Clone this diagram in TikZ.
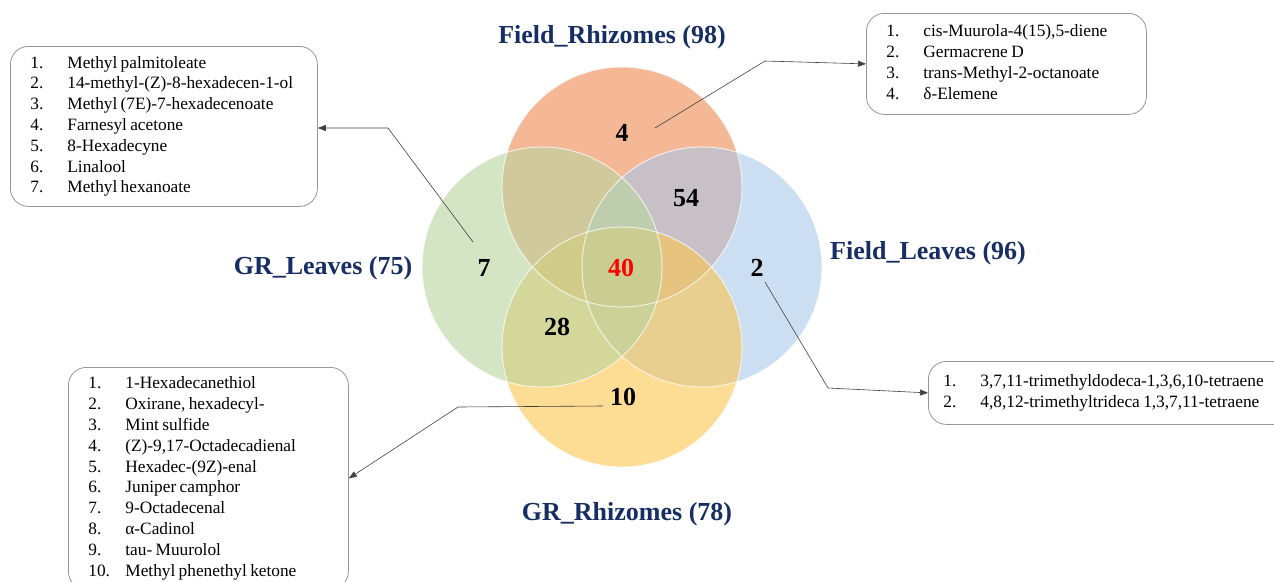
\documentclass[tikz,border=0pt]{standalone}
\usepackage{fontspec}
\setmainfont{Liberation Serif}
\usetikzlibrary{arrows.meta}

\definecolor{setnavy}{RGB}{22,46,100}
\definecolor{frhiz}{RGB}{238,138,82}
\definecolor{gleaf}{RGB}{183,213,158}
\definecolor{fleaf}{RGB}{170,200,232}
\definecolor{grhiz}{RGB}{252,197,78}
\definecolor{boxline}{RGB}{150,150,150}

% numbered compound list for the callout boxes
\newcommand{\cmpdlist}[1]{\fontsize{17.3}{20.8}\selectfont\begin{tabular}{@{}p{37pt}@{}l@{}}#1\end{tabular}}

\tikzset{
  setcirc/.style={fill opacity=0.6},
  setrim/.style={draw=white, draw opacity=0.7, line width=1pt},
  setname/.style={text=setnavy, font=\fontsize{26}{28}\selectfont\bfseries},
  count/.style={font=\fontsize{26}{28}\selectfont\bfseries},
  listbox/.style={draw=boxline, line width=0.8pt, rounded corners=18pt,
    inner xsep=20pt, inner ysep=0pt, anchor=north west, align=left},
  leader/.style={draw=black!75, line width=0.6pt, -{Triangle[length=8pt,width=6pt]}}
}

\begin{document}
\begin{tikzpicture}[x=1pt,y=-1pt]
  \useasboundingbox (0,0) rectangle (1274,581);
  \clip (0,0) rectangle (1274,581);

  % the four sets
  \fill[white] (0,0) rectangle (1274,581);
  \fill[setcirc,frhiz] (622,187) circle (120);
  \fill[setcirc,fleaf] (702,267) circle (120);
  \fill[setcirc,grhiz] (622,347) circle (120);
  \fill[setcirc,gleaf] (542,267) circle (120);
  \foreach \cx/\cy in {622/187, 702/267, 622/347, 542/267}
    \draw[setrim] (\cx,\cy) circle (120);

  \node[setname] (fr) at (612,37) {Field\_Rhizomes (98)};
  \node[setname] (gl) at (323,268) {GR\_Leaves (75)};
  \node[setname] (fl) at (928,253) {Field\_Leaves (96)};
  \node[setname] (gr) at (627,514) {GR\_Rhizomes (78)};

  % counts per region
  \node[count] (n4) at (622,133) {4};
  \node[count] (n54) at (686,198) {54};
  \node[count] (n7) at (484,268) {7};
  \node[count,text=red] (n40) at (621,268) {40};
  \node[count] (n2) at (757,268) {2};
  \node[count] (n28) at (557,327) {28};
  \node[count] (n10) at (623,397) {10};

  % unique compounds
  \node[listbox,text width=267pt,minimum height=160pt] (lst7) at (10,46) {\cmpdlist{
    1. & Methyl palmitoleate\\
    2. & 14-methyl-(Z)-8-hexadecen-1-ol\\
    3. & Methyl (7E)-7-hexadecenoate\\
    4. & Farnesyl acetone\\
    5. & 8-Hexadecyne\\
    6. & Linalool\\
    7. & Methyl hexanoate}};
  \node[listbox,text width=240pt,minimum height=101pt] (lst4) at (866,13) {\cmpdlist{
    1. & cis-Muurola-4(15),5-diene\\
    2. & Germacrene D\\
    3. & trans-Methyl-2-octanoate\\
    4. & δ-Elemene}};
  \node[listbox,inner xsep=15pt,text width=350pt,minimum height=63pt] (lst2) at (928,361) {\cmpdlist{
    1. & 3,7,11-trimethyldodeca-1,3,6,10-tetraene\\
    2. & 4,8,12-trimethyltrideca 1,3,7,11-tetraene}};
  \node[listbox,text width=240pt,minimum height=222pt] (lst10) at (68,367) {\cmpdlist{
    1. & 1-Hexadecanethiol\\
    2. & Oxirane, hexadecyl-\\
    3. & Mint sulfide\\
    4. & (Z)-9,17-Octadecadienal\\
    5. & Hexadec-(9Z)-enal\\
    6. & Juniper camphor\\
    7. & 9-Octadecenal\\
    8. & α-Cadinol\\
    9. & tau- Muurolol\\
    10. & Methyl phenethyl ketone}};

  % leader lines
  \coordinate (s7) at (473,242);
  \coordinate (k7) at (388,128);
  \coordinate (s4) at (655,128);
  \coordinate (k4) at (765,61);
  \coordinate (s2) at (765,282);
  \coordinate (k2) at (828,388);
  \coordinate (s10) at (603,406);
  \coordinate (k10) at (458,407);
  \draw[leader] (s7) -- (k7) -- (k7 -| lst7.east);
  \draw[leader] (s4) -- (k4) -- (lst4.west);
  \draw[leader] (s2) -- (k2) -- (lst2.west);
  \draw[leader] (s10) -- (k10) -- (lst10.east);
\end{tikzpicture}
\end{document}
